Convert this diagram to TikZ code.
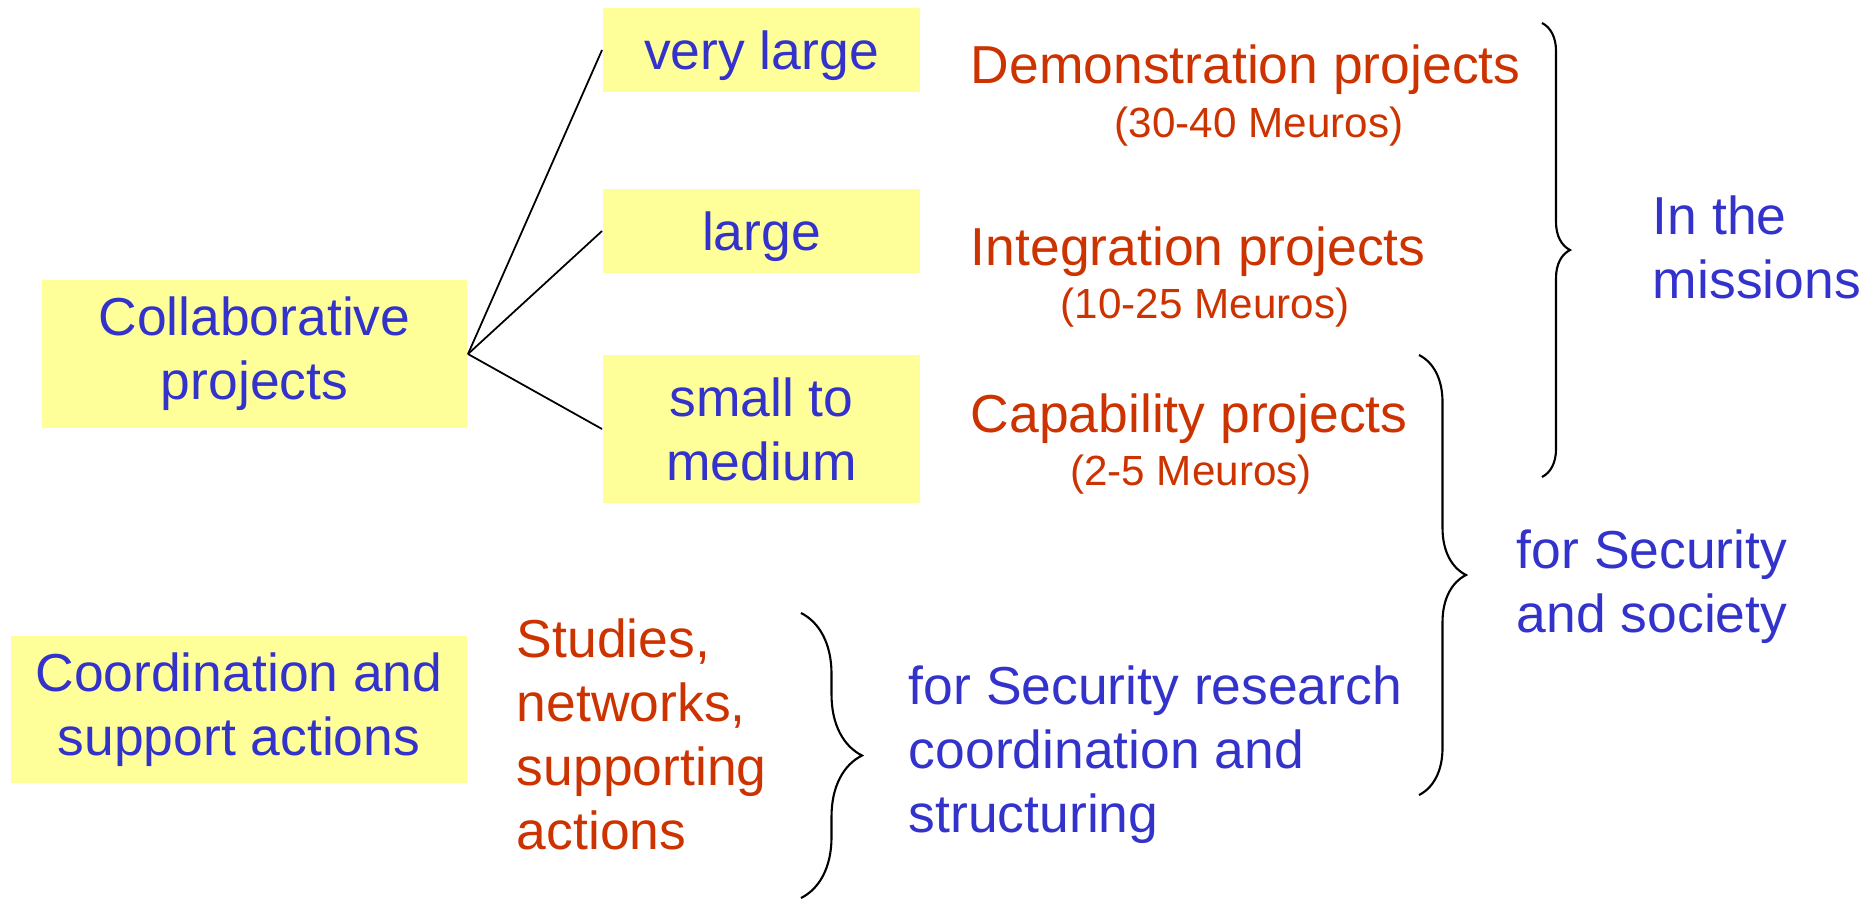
\documentclass[tikz,border=0pt]{standalone}
\usepackage{fontspec}
\setmainfont{Liberation Sans}
\usetikzlibrary{positioning,decorations.pathreplacing}
\definecolor{boxyellow}{RGB}{255,255,153}
\definecolor{txtblue}{RGB}{51,51,204}
\definecolor{txtred}{RGB}{204,51,0}
\newcommand{\boxstrut}{\rule{0pt}{14.5pt}}

\begin{document}
\begin{tikzpicture}[x=0.01cm,y=-0.01cm,line width=0.5pt,
        font=\fontsize{15.2}{18.2}\selectfont,
        box/.style={fill=boxyellow,text=txtblue,align=center,inner sep=0pt,
                    execute at begin node=\boxstrut},
        kind/.style={text=txtred,anchor=base west,inner sep=0pt},
        cost/.style={text=txtred,font=\fontsize{12}{14.4}\selectfont,anchor=base,inner sep=0pt},
        goal/.style={align=left,anchor=base west,inner sep=0pt},
        curly/.style={decorate,decoration={brace,amplitude=#1},line width=0.6pt}]

  \useasboundingbox (0,0) rectangle (1869,899);

  \node[box,minimum width=4.25cm,minimum height=1.48cm] (collab) at (254.5,354) {Collaborative\\projects};
  \node[box,minimum width=4.56cm,minimum height=1.47cm] (coord) at (239,709.5) {Coordination and\\support actions};
  \node[box,minimum width=3.17cm,minimum height=0.84cm] (vlarge) at (761.5,50) {very large};
  \node[box,minimum width=3.17cm,minimum height=0.84cm] (large) at (761.5,231) {large};
  \node[box,minimum width=3.17cm,minimum height=1.48cm] (small) at (761.5,429) {small to\\medium};

  \node[kind] (demo) at (970,83) {Demonstration projects};
  \node[kind] (integ) at (970,265) {Integration projects};
  \node[kind] (capab) at (970,432) {Capability projects};
  \node[cost] (democost) at (1259,137) {(30-40 Meuros)};
  \node[cost] (integcost) at (1205,318) {(10-25 Meuros)};
  \node[cost] (capabcost) at (1191,485) {(2-5 Meuros)};

  \node[goal,text=txtred] (studies) at (516,849) {Studies,\\networks,\\supporting\\actions};
  \node[goal,text=txtblue] (research) at (908,832) {for Security research\\coordination and\\structuring};
  \node[goal,text=txtblue] (missions) at (1652,298) {In the\\missions};
  \node[goal,text=txtblue] (society) at (1516,632) {for Security\\and society};

  \path (collab.east) edge (vlarge.west)
        (collab.east) edge (large.west)
        (collab.east) edge (small.west);

  \coordinate (mtop) at (1542,23);
  \coordinate (mbot) at (1542,477);
  \coordinate (stop) at (1419,355);
  \coordinate (sbot) at (1419,795);
  \coordinate (rtop) at (801,613);
  \coordinate (rbot) at (801,898);
  \draw[curly=0.28cm] (mtop) -- (mbot);
  \draw[curly=0.47cm] (stop) -- (sbot);
  \draw[curly=0.61cm] (rtop) -- (rbot);

\end{tikzpicture}
\end{document}
